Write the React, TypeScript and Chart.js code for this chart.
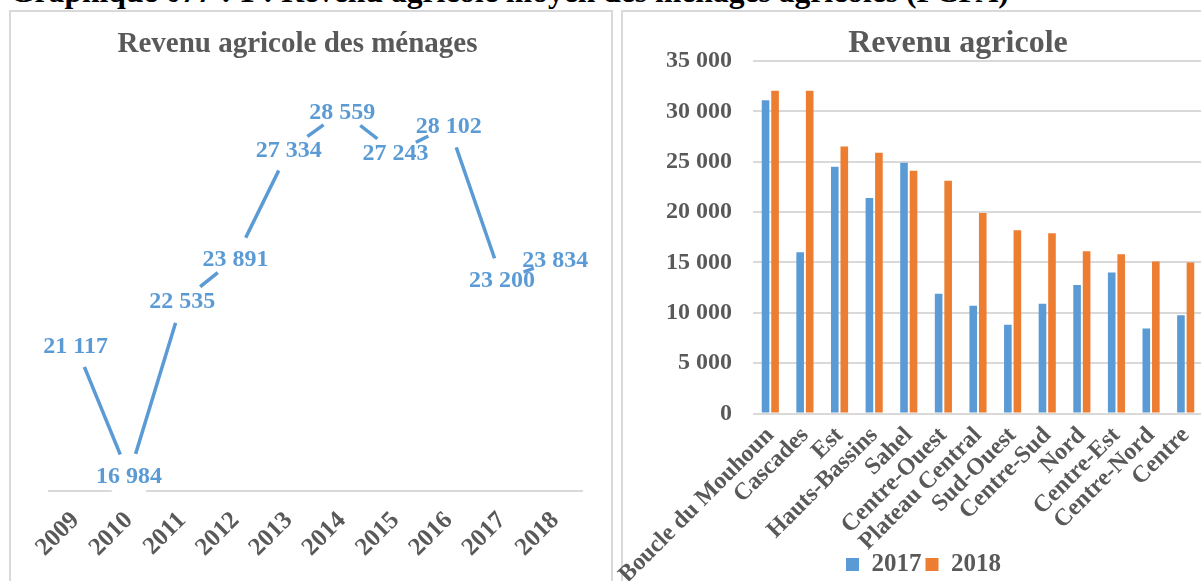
import React, { useEffect, useRef } from 'react';
import { Chart, registerables } from 'chart.js';

Chart.register(...registerables);

// ---------- Data ----------
const pageTitle = 'Graphique 077 : 1 : Revenu agricole moyen des ménages agricoles (FCFA)';

const lineTitle = 'Revenu agricole des ménages';
const years = ['2009', '2010', '2011', '2012', '2013', '2014', '2015', '2016', '2017', '2018'];
const revenuMenages = [21117, 16984, 22535, 23891, 27334, 28559, 27243, 28102, 23200, 23834];

const barTitle = 'Revenu agricole';
const regions = [
  'Boucle du Mouhoun', 'Cascades', 'Est', 'Hauts-Bassins', 'Sahel', 'Centre-Ouest',
  'Plateau Central', 'Sud-Ouest', 'Centre-Sud', 'Nord', 'Centre-Est', 'Centre-Nord', 'Centre',
];
const seriesNames = ['2017', '2018'];
const revenu2017 = [31100, 16000, 24500, 21400, 24900, 11900, 10700, 8800, 10900, 12750, 14000, 8450, 9750];
const revenu2018 = [32050, 32050, 26500, 25900, 24100, 23100, 19900, 18200, 17900, 16100, 15800, 15100, 15000];

// ---------- Styles ----------
const FONT = "'Liberation Serif', 'Times New Roman', serif";
const GRAY = '#595959';
const BLUE = '#5B9BD5';
const ORANGE = '#ED7D31';
const GRID = '#D9D9D9';

const fmt = (v: number) => String(Math.round(v)).replace(/\B(?=(\d{3})+(?!\d))/g, ' ');

function titlePlugin(text: string, x: number, baseline: number, size: number) {
  return {
    id: 'customTitle',
    afterDraw(chart: any) {
      const ctx = chart.ctx;
      ctx.save();
      ctx.font = `bold ${size}px ${FONT}`;
      ctx.fillStyle = GRAY;
      ctx.textAlign = 'center';
      ctx.textBaseline = 'alphabetic';
      ctx.fillText(text, x, baseline);
      ctx.restore();
    },
  };
}

// let the rotated category labels run down over the legend area (as in the original)
const unclipXLabels = {
  id: 'unclipXLabels',
  afterLayout(chart: any) {
    const x = chart.scales.x;
    if (x) x.bottom = chart.height;
  },
};

const lineLabelsPlugin = {
  id: 'lineLabels',
  afterDatasetsDraw(chart: any) {
    const ctx = chart.ctx;
    const meta = chart.getDatasetMeta(0);
    const data = chart.data.datasets[0].data as number[];
    ctx.save();
    ctx.font = `bold 24px ${FONT}`;
    ctx.fillStyle = BLUE;
    ctx.textAlign = 'center';
    ctx.textBaseline = 'middle';
    meta.data.forEach((pt: any, i: number) => {
      ctx.fillText(fmt(data[i]), pt.x, pt.y + 1);
    });
    ctx.restore();
  },
};

function LineChart() {
  const ref = useRef<HTMLCanvasElement>(null);
  useEffect(() => {
    const chart = new Chart(ref.current as HTMLCanvasElement, {
      type: 'line',
      data: {
        labels: years,
        datasets: [
          {
            data: revenuMenages,
            borderColor: BLUE,
            borderWidth: 3.5,
            pointRadius: 23,
            pointHoverRadius: 23,
            pointBackgroundColor: '#ffffff',
            pointBorderColor: '#ffffff',
            pointBorderWidth: 0,
            tension: 0,
            clip: false as any,
          },
        ],
      },
      options: {
        animation: false,
        responsive: false,
        events: [],
        layout: { padding: { left: 40, right: 30, top: 56, bottom: 0 } },
        plugins: { legend: { display: false }, tooltip: { enabled: false }, title: { display: false } },
        scales: {
          x: {
            offset: true,
            grid: { display: false, drawTicks: false },
            border: { display: true, color: GRID, width: 2 },
            ticks: {
              color: GRAY,
              font: { family: FONT, size: 25, weight: 'bold' },
              maxRotation: 45,
              minRotation: 45,
              autoSkip: false,
              padding: 15,
            },
            afterFit: (s: any) => {
              s.height = 90;
              s.paddingLeft = 0;
              s.paddingRight = 0;
            },
          },
          y: { display: false, min: 16500, max: 30000 },
        },
      } as any,
      plugins: [lineLabelsPlugin, titlePlugin(lineTitle, 288.5, 41.5, 29)],
    });
    return () => chart.destroy();
  }, []);
  return (
    <canvas
      ref={ref}
      width={603}
      height={571}
      style={{ position: 'absolute', left: 9, top: 10, width: 603, height: 571 }}
    />
  );
}

const BAR_H = 577;

function BarChart() {
  const ref = useRef<HTMLCanvasElement>(null);
  useEffect(() => {
    const chart = new Chart(ref.current as HTMLCanvasElement, {
      type: 'bar',
      data: {
        labels: regions,
        datasets: [
          { label: seriesNames[0], data: revenu2017, backgroundColor: BLUE, categoryPercentage: 0.55, barPercentage: 0.8 },
          { label: seriesNames[1], data: revenu2018, backgroundColor: ORANGE, categoryPercentage: 0.55, barPercentage: 0.8 },
        ],
      },
      options: {
        animation: false,
        responsive: false,
        events: [],
        layout: { padding: { left: 54, right: 22, top: 51, bottom: 0 } },
        plugins: {
          tooltip: { enabled: false },
          title: { display: false },
          legend: {
            position: 'bottom',
            labels: {
              boxWidth: 13,
              boxHeight: 13,
              color: GRAY,
              font: { family: FONT, size: 25, weight: 'bold' },
              padding: 4,
            },
          },
        },
        scales: {
          x: {
            grid: { display: false, drawTicks: false },
            border: { display: false },
            ticks: {
              color: GRAY,
              font: { family: FONT, size: 24, weight: 'bold' },
              maxRotation: 45,
              minRotation: 45,
              autoSkip: false,
              padding: 8,
            },
            afterFit: (s: any) => {
              const lh = s.chart.legend ? s.chart.legend.height : 0;
              s.height = BAR_H - 403.5 - lh;
              s.paddingLeft = 0;
              s.paddingRight = 0;
            },
          },
          y: {
            min: 0,
            max: 35000,
            ticks: {
              stepSize: 5000,
              callback: (v: any) => fmt(Number(v)),
              color: GRAY,
              font: { family: FONT, size: 24, weight: 'bold' },
              padding: 21,
            },
            grid: { color: GRID, lineWidth: 2, drawTicks: false },
            border: { display: false },
            afterFit: (s: any) => {
              s.width = 109;
            },
          },
        },
      } as any,
      plugins: [unclipXLabels, titlePlugin(barTitle, 368, 42, 32)],
    });
    return () => chart.destroy();
  }, []);
  return (
    <canvas
      ref={ref}
      width={635}
      height={BAR_H}
      style={{ position: 'absolute', left: 590, top: 10, width: 635, height: BAR_H }}
    />
  );
}

export default function App() {
  return (
    <div
      style={{
        position: 'fixed',
        left: 0,
        top: 0,
        width: 1201,
        height: 581,
        overflow: 'hidden',
        background: '#ffffff',
      }}
    >
      <div
        style={{
          position: 'absolute',
          left: 10,
          top: -24,
          font: `bold 31.6px ${FONT}`,
          lineHeight: '31px',
          color: '#000',
          whiteSpace: 'nowrap',
        }}
      >
        {pageTitle}
      </div>
      <div
        style={{
          position: 'absolute',
          left: 9,
          top: 10,
          width: 604,
          height: 600,
          boxSizing: 'border-box',
          border: `2px solid ${GRID}`,
        }}
      />
      <div
        style={{
          position: 'absolute',
          left: 621,
          top: 10,
          width: 700,
          height: 600,
          boxSizing: 'border-box',
          border: `2px solid ${GRID}`,
        }}
      />
      <LineChart />
      <BarChart />
    </div>
  );
}
